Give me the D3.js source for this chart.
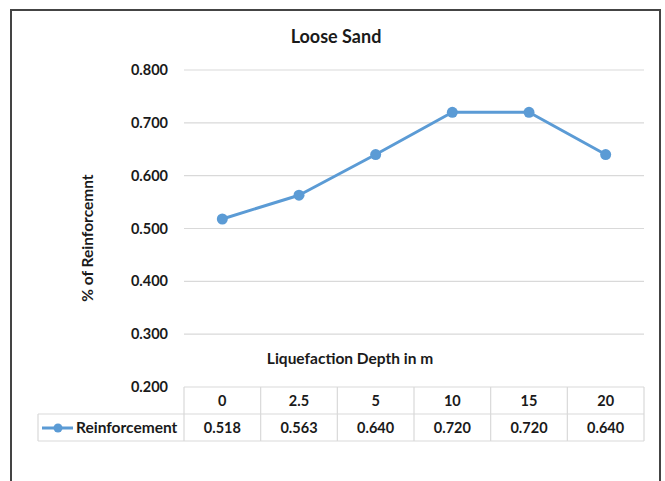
<!DOCTYPE html>
<html>
<head>
<meta charset="utf-8">
<script src="https://cdn.jsdelivr.net/npm/d3@7"></script>
<style>
  html, body { margin: 0; padding: 0; background: #fff; }
  svg { display: block; font-family: Lato, "Open Sans", sans-serif; }
</style>
</head>
<body>
<svg id="chart" width="665" height="481"></svg>
<script>
// Liquefaction depth (m) and required reinforcement
const depths = ["0", "2.5", "5", "10", "15", "20"];
const reinforcement = [0.518, 0.563, 0.640, 0.720, 0.720, 0.640];
const yTicks = [0.2, 0.3, 0.4, 0.5, 0.6, 0.7, 0.8];
const seriesName = "Reinforcement";

const svg = d3.select("#chart");
const color = "#5b9bd5";
const gridColor = "#d9d9d9";
const ink = "#1a1a1a";
const numSize = 14.5, textSize = 15.5;

const plotLeft = 184, plotRight = 644, plotTop = 70, plotBottom = 387;

const x = d3.scaleBand().domain(depths).range([plotLeft, plotRight]);
const y = d3.scaleLinear().domain([0.2, 0.8]).range([plotBottom, plotTop]);

// outer frame (top, left, right)
svg.append("path")
  .attr("d", "M11,481 L11,10 L660,10 L660,481")
  .attr("fill", "none").attr("stroke", "#444").attr("stroke-width", 2);

// title
svg.append("text").attr("x", 336).attr("y", 43)
  .attr("text-anchor", "middle").attr("font-weight", 700)
  .attr("font-size", 18).attr("fill", ink).text("Loose Sand");

// horizontal gridlines (0.200 sits on the table edge)
svg.append("g").selectAll("line").data(yTicks.filter(d => d > 0.2)).join("line")
  .attr("x1", plotLeft).attr("x2", plotRight)
  .attr("y1", d => y(d)).attr("y2", d => y(d))
  .attr("stroke", gridColor).attr("stroke-width", 1.2);

// y axis labels
const yAxis = d3.axisLeft(y).tickValues(yTicks).tickFormat(d3.format(".3f")).tickSize(0).tickPadding(0);
const gy = svg.append("g").attr("transform", `translate(${plotLeft - 16},0)`).call(yAxis);
gy.select(".domain").remove();
gy.selectAll("text").attr("font-size", numSize).attr("font-weight", 700).attr("fill", ink)
  .attr("font-family", "Lato, 'Open Sans', sans-serif");

// y axis title
svg.append("text")
  .attr("transform", "translate(93,238) rotate(-90)")
  .attr("text-anchor", "middle").attr("font-weight", 700).attr("font-size", textSize)
  .attr("fill", ink).text("% of Reinforcemnt");

// x axis title
svg.append("text").attr("x", 350).attr("y", 364)
  .attr("text-anchor", "middle").attr("font-weight", 700).attr("font-size", textSize)
  .attr("fill", ink).text("Liquefaction Depth in m");

// data table
const rowTop = 387, rowMid = 414, rowBot = 441, legendLeft = 38;
const table = svg.append("g").attr("stroke", gridColor).attr("stroke-width", 1.2).attr("fill", "none");
table.append("line").attr("x1", plotLeft).attr("x2", plotRight).attr("y1", rowTop).attr("y2", rowTop);
table.append("line").attr("x1", legendLeft).attr("x2", plotRight).attr("y1", rowMid).attr("y2", rowMid);
table.append("line").attr("x1", legendLeft).attr("x2", plotRight).attr("y1", rowBot).attr("y2", rowBot);
table.append("line").attr("x1", legendLeft).attr("x2", legendLeft).attr("y1", rowMid).attr("y2", rowBot);
table.selectAll("line.v").data(depths.concat(["end"])).join("line").attr("class", "v")
  .attr("x1", (d, i) => plotLeft + i * x.bandwidth()).attr("x2", (d, i) => plotLeft + i * x.bandwidth())
  .attr("y1", rowTop).attr("y2", rowBot);

// header (category) labels
svg.append("g").selectAll("text").data(depths).join("text")
  .attr("x", d => x(d) + x.bandwidth() / 2).attr("y", rowTop + 19)
  .attr("text-anchor", "middle").attr("font-weight", 700).attr("font-size", numSize)
  .attr("fill", ink).text(d => d);

// value labels
svg.append("g").selectAll("text").data(reinforcement).join("text")
  .attr("x", (d, i) => x(depths[i]) + x.bandwidth() / 2).attr("y", rowMid + 19)
  .attr("text-anchor", "middle").attr("font-weight", 700).attr("font-size", numSize)
  .attr("fill", ink).text(d => d3.format(".3f")(d));

// legend key in table
svg.append("line").attr("x1", 42).attr("x2", 73).attr("y1", rowMid + 14).attr("y2", rowMid + 14)
  .attr("stroke", color).attr("stroke-width", 3);
svg.append("circle").attr("cx", 58).attr("cy", rowMid + 14).attr("r", 4.5).attr("fill", color);
svg.append("text").attr("x", 76).attr("y", rowMid + 19)
  .attr("font-weight", 700).attr("font-size", textSize).attr("fill", ink).text(seriesName);

// series line and markers
const pts = reinforcement.map((v, i) => [x(depths[i]) + x.bandwidth() / 2, y(v)]);
svg.append("path").attr("d", d3.line()(pts))
  .attr("fill", "none").attr("stroke", color).attr("stroke-width", 3).attr("stroke-linejoin", "round");
svg.append("g").selectAll("circle").data(pts).join("circle")
  .attr("cx", d => d[0]).attr("cy", d => d[1]).attr("r", 5.5).attr("fill", color);
</script>
</body>
</html>
